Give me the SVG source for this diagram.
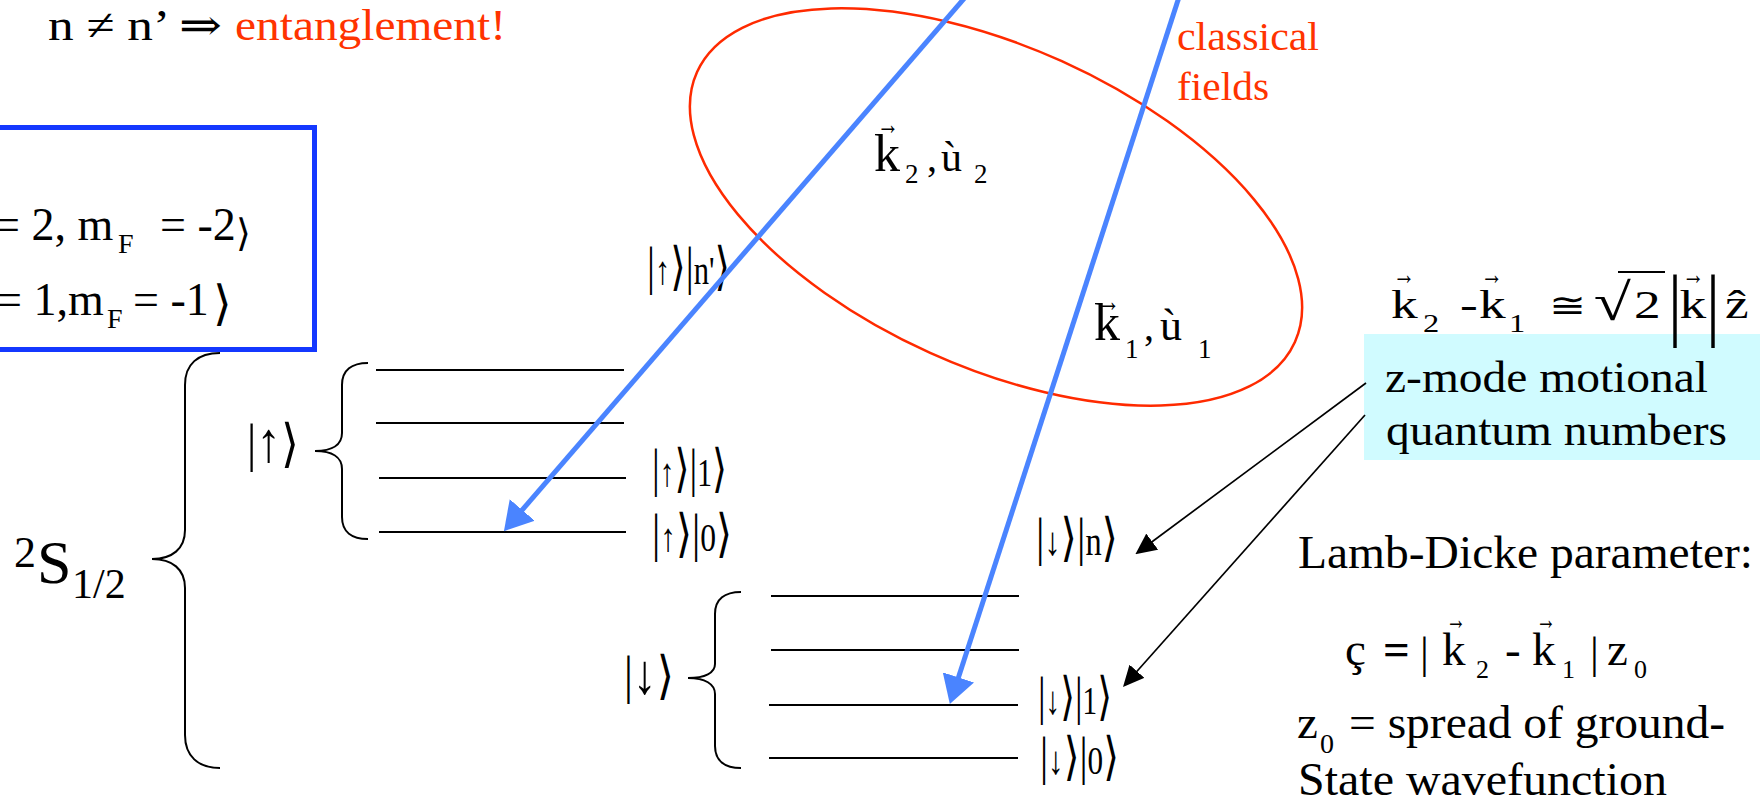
<svg xmlns="http://www.w3.org/2000/svg" width="1760" height="799" viewBox="0 0 1760 799">
<defs>
<style>
.s{font-family:"Liberation Serif","DejaVu Serif","DejaVu Sans",serif;fill:#000;}
.ket{font-family:"Liberation Serif","DejaVu Sans",serif;fill:#000;}
.red{fill:#FF3300;}
.lvl{stroke:#000;stroke-width:2;fill:none;}
.brace{fill:none;stroke:#000;stroke-width:2;}
.beam{stroke:#4A84FF;stroke-width:5;fill:none;}
.ptr{stroke:#000;stroke-width:1.7;fill:none;}
.big{font-size:52px;}
.sm{font-size:40px;}
.vec{font-size:30px;}
</style>
<marker id="bhead" markerUnits="userSpaceOnUse" viewBox="0 0 28 33" markerWidth="28" markerHeight="33" refX="8" refY="16.5" orient="auto"><path d="M0,0 L28,16.5 L0,33 z" fill="#4A84FF"/></marker>
<marker id="khead" markerUnits="userSpaceOnUse" viewBox="0 0 21 20" markerWidth="21" markerHeight="20" refX="9" refY="10" orient="auto"><path d="M0,0 L21,10 L0,20 z" fill="#000"/></marker>
</defs>
<rect x="0" y="0" width="1760" height="799" fill="#fff"/>

<g id="title">
<text class="s" x="48" y="40" font-size="44" textLength="174" lengthAdjust="spacingAndGlyphs">n ≠ n’ ⇒</text>
<text class="s red" x="235" y="40" font-size="44" textLength="271" lengthAdjust="spacingAndGlyphs">entanglement!</text>
</g>

<g id="hyperfine-box">
<rect x="-10" y="127.5" width="324.5" height="222" fill="none" stroke="#1438FF" stroke-width="5"/>
<text class="s" y="240" font-size="46"><tspan x="-6">= 2, m</tspan><tspan x="118" y="253" font-size="28">F</tspan><tspan x="160" y="240">= -2</tspan><tspan x="236" y="246" font-size="38" class="ket">⟩</tspan></text>
<text class="s" y="315" font-size="46"><tspan x="-4">= 1,m</tspan><tspan x="107" y="328" font-size="28">F</tspan><tspan x="133" y="315">= -1</tspan><tspan x="213" y="320" font-size="48" class="ket">⟩</tspan></text>
</g>

<g id="S-level">
<path class="brace" d="M220,353 C198,353 185,364 185,385 L185,530 C185,549 172,559 152,559 C172,559 185,569 185,588 L185,735 C185,756 198,768 220,768"/>
<text class="s" y="583"><tspan x="14" y="567" font-size="44">2</tspan><tspan x="37" y="583" font-size="62">S</tspan><tspan x="72" y="598" font-size="42">1/2</tspan></text>
</g>

<g id="up-manifold">
<path class="brace" d="M368,363 C352,363 342,370 342,385 L342,433 C342,445 332,451 315,451 C332,451 342,457 342,469 L342,517 C342,532 352,539 368,539"/>
<text class="ket" x="247" y="461" textLength="52" lengthAdjust="spacingAndGlyphs"><tspan class="big">|</tspan><tspan font-size="56">↑</tspan><tspan class="big">⟩</tspan></text>
<line class="lvl" x1="376" y1="370" x2="624" y2="370"/>
<line class="lvl" x1="376" y1="423" x2="624" y2="423"/>
<line class="lvl" x1="379" y1="478" x2="626" y2="478"/>
<line class="lvl" x1="379" y1="532" x2="626" y2="532"/>
</g>

<g id="ket-up-nprime"><text class="ket" x="647" y="284" textLength="83" lengthAdjust="spacingAndGlyphs"><tspan class="big">|</tspan><tspan class="sm">↑</tspan><tspan class="big">⟩|</tspan><tspan class="sm">n'</tspan><tspan class="big">⟩</tspan></text></g>
<g id="ket-up-1"><text class="ket" x="652" y="486" textLength="75" lengthAdjust="spacingAndGlyphs"><tspan class="big">|</tspan><tspan class="sm">↑</tspan><tspan class="big">⟩|</tspan><tspan class="sm">1</tspan><tspan class="big">⟩</tspan></text></g>
<g id="ket-up-0"><text class="ket" x="652" y="551" textLength="80" lengthAdjust="spacingAndGlyphs"><tspan class="big">|</tspan><tspan class="sm">↑</tspan><tspan class="big">⟩|</tspan><tspan class="sm">0</tspan><tspan class="big">⟩</tspan></text></g>

<g id="down-manifold">
<path class="brace" d="M741,592 C725,592 715,599 715,614 L715,664 C715,673 705,678 688,678 C705,678 715,684 715,694 L715,746 C715,761 725,768 741,768"/>
<text class="ket" x="624" y="693" textLength="50" lengthAdjust="spacingAndGlyphs"><tspan class="big">|</tspan><tspan font-size="56">↓</tspan><tspan class="big">⟩</tspan></text>
<line class="lvl" x1="771" y1="596" x2="1019" y2="596"/>
<line class="lvl" x1="771" y1="650" x2="1019" y2="650"/>
<line class="lvl" x1="769" y1="705" x2="1018" y2="705"/>
<line class="lvl" x1="769" y1="758" x2="1018" y2="758"/>
</g>

<g id="ket-down-n"><text class="ket" x="1036" y="555" textLength="82" lengthAdjust="spacingAndGlyphs"><tspan class="big">|</tspan><tspan class="sm">↓</tspan><tspan class="big">⟩|</tspan><tspan class="sm">n</tspan><tspan class="big">⟩</tspan></text></g>
<g id="ket-down-1"><text class="ket" x="1038" y="714" textLength="74" lengthAdjust="spacingAndGlyphs"><tspan class="big">|</tspan><tspan class="sm">↓</tspan><tspan class="big">⟩|</tspan><tspan class="sm">1</tspan><tspan class="big">⟩</tspan></text></g>
<g id="ket-down-0"><text class="ket" x="1040" y="774" textLength="79" lengthAdjust="spacingAndGlyphs"><tspan class="big">|</tspan><tspan class="sm">↓</tspan><tspan class="big">⟩|</tspan><tspan class="sm">0</tspan><tspan class="big">⟩</tspan></text></g>

<g id="classical-fields">
<ellipse cx="996" cy="207" rx="328" ry="160" transform="rotate(24.3 996 207)" fill="none" stroke="#FF2A00" stroke-width="2.5"/>
<text class="s red" x="1177" y="50" font-size="41" textLength="142" lengthAdjust="spacingAndGlyphs">classical</text>
<text class="s red" x="1177" y="100" font-size="41" textLength="92" lengthAdjust="spacingAndGlyphs">fields</text>
</g>

<g id="motional-box">
<rect x="1364" y="334" width="400" height="126" fill="#D0FBFF"/>
<text class="s" x="1385" y="392" font-size="45" textLength="323" lengthAdjust="spacingAndGlyphs">z-mode motional</text>
<text class="s" x="1386" y="445" font-size="45" textLength="341" lengthAdjust="spacingAndGlyphs">quantum numbers</text>
</g>

<g id="connectors">
<line class="beam" x1="968" y1="-6" x2="517" y2="516" marker-end="url(#bhead)"/>
<line class="beam" x1="1180" y1="-6" x2="956" y2="685" marker-end="url(#bhead)"/>
<line class="ptr" x1="1366" y1="383" x2="1145" y2="547" marker-end="url(#khead)"/>
<line class="ptr" x1="1365" y1="415" x2="1131" y2="678" marker-end="url(#khead)"/>
</g>

<g id="k2-label">
<text class="s"><tspan x="874" y="171" font-size="52">k</tspan><tspan x="905" y="183" font-size="27">2</tspan><tspan x="927" y="171" font-size="40">,</tspan><tspan x="941" y="171" font-size="42">ù</tspan><tspan x="974" y="183" font-size="27">2</tspan></text>
<text class="s vec" x="877" y="134" textLength="22" lengthAdjust="spacingAndGlyphs">→</text>
</g>

<g id="k1-label">
<text class="s"><tspan x="1094" y="340" font-size="52">k</tspan><tspan x="1125" y="358" font-size="27">1</tspan><tspan x="1144" y="340" font-size="40">,</tspan><tspan x="1160" y="340" font-size="44">ù</tspan><tspan x="1198" y="358" font-size="27">1</tspan></text>
<text class="s vec" x="1097" y="311" textLength="23" lengthAdjust="spacingAndGlyphs">→</text>
</g>

<g id="k-difference">
<g transform="translate(1391,318) scale(1.3,1)">
<text class="s"><tspan x="0" y="0" font-size="41">k</tspan><tspan x="24.6" y="14" font-size="25">2</tspan><tspan x="53" y="0" font-size="41">-</tspan><tspan x="67.7" y="0" font-size="41">k</tspan><tspan x="90.8" y="14" font-size="25">1</tspan><tspan x="121.5" y="-1" font-size="34">≅</tspan><tspan x="156" y="2" font-size="52">√</tspan><tspan x="187" y="0" font-size="41">2</tspan><tspan x="222" y="0" font-size="41">k</tspan><tspan x="257" y="0" font-size="41">ẑ</tspan></text>
<text class="s vec" x="1.5" y="-34" textLength="17" lengthAdjust="spacingAndGlyphs">→</text>
<text class="s vec" x="69" y="-34" textLength="17" lengthAdjust="spacingAndGlyphs">→</text>
<text class="s vec" x="224" y="-34" textLength="17" lengthAdjust="spacingAndGlyphs">→</text>
</g>
<text class="s" font-size="70" transform="translate(1668,331) scale(1,1.15)">|</text>
<text class="s" font-size="70" transform="translate(1706,331) scale(1,1.15)">|</text>
<line x1="1618" y1="272" x2="1665" y2="272" stroke="#000" stroke-width="2"/>
</g>

<g id="lamb-dicke">
<text class="s" x="1298" y="568" font-size="47" textLength="455" lengthAdjust="spacingAndGlyphs">Lamb-Dicke parameter:</text>
<text class="s" font-size="47"><tspan x="1345" y="665">ç</tspan><tspan x="1383" y="665" font-weight="bold">=</tspan><tspan x="1420" y="668" font-size="44">|</tspan><tspan x="1442" y="665">k</tspan><tspan x="1476" y="678" font-size="26">2</tspan><tspan x="1505" y="665">-</tspan><tspan x="1532" y="665">k</tspan><tspan x="1562" y="678" font-size="26">1</tspan><tspan x="1590" y="668" font-size="44">|</tspan><tspan x="1607" y="665">z</tspan><tspan x="1634" y="678" font-size="26">0</tspan></text>
<text class="s vec" x="1446" y="629" textLength="20" lengthAdjust="spacingAndGlyphs">→</text>
<text class="s vec" x="1536" y="629" textLength="20" lengthAdjust="spacingAndGlyphs">→</text>
<text class="s" font-size="47"><tspan x="1297" y="738">z</tspan><tspan x="1320" y="753" font-size="28">0</tspan></text>
<text class="s" x="1349" y="738" font-size="47" textLength="376" lengthAdjust="spacingAndGlyphs">= spread of ground-</text>
<text class="s" x="1298" y="795" font-size="47" textLength="369" lengthAdjust="spacingAndGlyphs">State wavefunction</text>
</g>
</svg>
